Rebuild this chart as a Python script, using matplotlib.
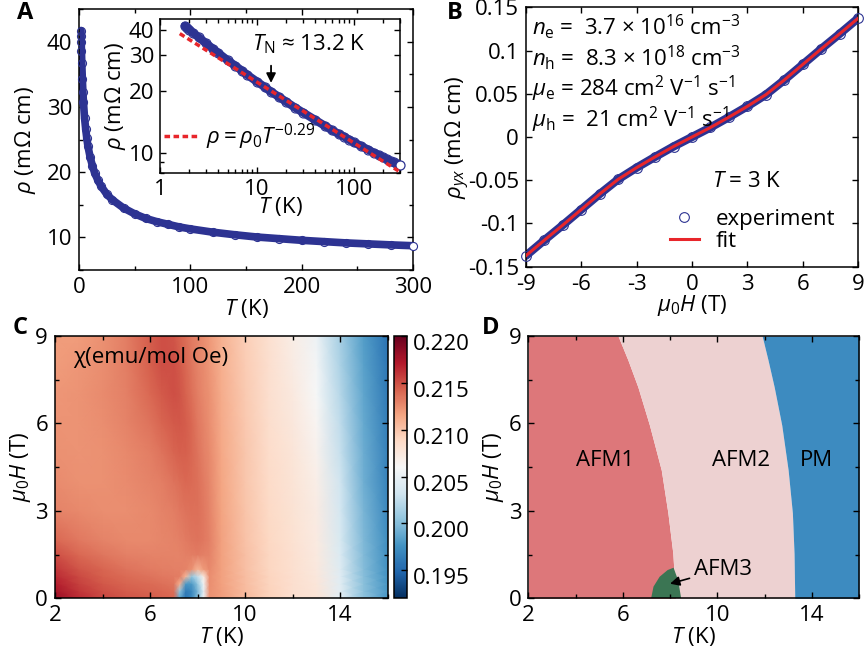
import numpy as np
import matplotlib
matplotlib.use('Agg')
import matplotlib.pyplot as plt
from matplotlib.ticker import MultipleLocator, FixedLocator, NullFormatter, FixedFormatter
from matplotlib.transforms import ScaledTranslation

plt.rcParams['font.family'] = ['Open Sans', 'DejaVu Sans']
plt.rcParams['mathtext.fontset'] = 'custom'
plt.rcParams['mathtext.rm'] = 'Open Sans'
plt.rcParams['mathtext.it'] = 'Open Sans:italic'
plt.rcParams['mathtext.bf'] = 'Open Sans:bold'
plt.rcParams['font.size'] = 16
plt.rcParams['axes.linewidth'] = 1.1

# ---------------- Panel A data: resistivity vs temperature ----------------
T_rho = [1.8, 1.9, 2.0, 2.2, 2.5, 3, 3.5, 4, 5, 6, 7, 8, 10, 12, 14, 17, 20, 25, 30,
         40, 50, 60, 70, 80, 90, 100, 120, 140, 160, 180, 200, 220, 240, 260, 280, 300]
rho = [41.7, 40.8, 40.0, 38.5, 36.7, 34.2, 32.3, 30.7, 28.3, 26.6, 25.2, 24.0, 22.3,
       21.0, 19.9, 18.75, 17.8, 16.6, 15.75, 14.5, 13.6, 12.9, 12.4, 12.0, 11.6, 11.3,
       10.8, 10.4, 10.05, 9.8, 9.55, 9.35, 9.15, 9.0, 8.85, 8.72]
T_fit = [1.6, 300]
rho_fit = [38.2, 8.1]
T_N = 14

# ---------------- Panel B data: Hall resistivity ----------------
H_hall = [-9, -8, -7, -6, -5, -4, -3, -2, -1, 0, 1, 2, 3, 4, 5, 6, 7, 8, 9]
rhoyx_exp = [-0.1375, -0.1195, -0.1020, -0.0840, -0.0660, -0.0490, -0.0355, -0.0230,
             -0.0110, 0.0, 0.0110, 0.0230, 0.0355, 0.0490, 0.0660, 0.0840, 0.1020,
             0.1195, 0.1375]
rhoyx_fit = [-0.1375, -0.1195, -0.1020, -0.0840, -0.0660, -0.0490, -0.0355, -0.0230,
             -0.0110, 0.0, 0.0110, 0.0230, 0.0355, 0.0490, 0.0660, 0.0840, 0.1020,
             0.1195, 0.1375]

# ---------------- Panel C data: susceptibility map ----------------
T_chi = [2, 3, 4, 5, 6, 6.5, 7, 7.25, 7.5, 7.75, 8, 8.25, 8.5, 9, 10, 11, 12, 13, 14, 15, 16]
H_chi = [0, 0.25, 0.5, 0.75, 1.0, 1.5, 2, 3, 4, 5, 6, 7, 8, 9]
chi = [
    [.2180, .2165, .2153, .2148, .2145, .2143, .2140, .1985, .1958, .1970, .2000, .2050, .2123, .2118, .2104, .2092, .2084, .2079, .2046, .2003, .1979],
    [.2175, .2160, .2150, .2145, .2142, .2140, .2138, .2005, .1962, .1970, .1995, .2045, .2124, .2118, .2104, .2092, .2084, .2078, .2045, .2002, .1978],
    [.2170, .2156, .2147, .2142, .2139, .2137, .2135, .2110, .1980, .1980, .2005, .2055, .2125, .2117, .2103, .2091, .2083, .2077, .2044, .2001, .1977],
    [.2165, .2152, .2144, .2139, .2136, .2134, .2133, .2132, .2105, .2005, .2025, .2070, .2125, .2117, .2103, .2091, .2083, .2076, .2043, .2000, .1976],
    [.2160, .2148, .2141, .2136, .2133, .2132, .2131, .2131, .2130, .2124, .2108, .2120, .2127, .2117, .2102, .2090, .2082, .2075, .2042, .1999, .1975],
    [.2150, .2140, .2135, .2131, .2129, .2129, .2130, .2130, .2131, .2132, .2133, .2131, .2129, .2117, .2102, .2090, .2082, .2074, .2040, .1998, .1974],
    [.2140, .2134, .2130, .2127, .2127, .2128, .2130, .2131, .2133, .2135, .2136, .2134, .2131, .2117, .2101, .2089, .2081, .2073, .2038, .1997, .1973],
    [.2130, .2127, .2125, .2125, .2127, .2129, .2132, .2134, .2136, .2137, .2137, .2134, .2130, .2116, .2100, .2088, .2080, .2071, .2035, .1995, .1970],
    [.2126, .2124, .2124, .2126, .2129, .2132, .2136, .2138, .2140, .2139, .2137, .2133, .2128, .2115, .2099, .2087, .2079, .2069, .2032, .1992, .1967],
    [.2124, .2123, .2124, .2127, .2132, .2136, .2141, .2144, .2144, .2140, .2136, .2131, .2127, .2114, .2099, .2086, .2078, .2066, .2028, .1990, .1965],
    [.2123, .2123, .2125, .2129, .2136, .2141, .2146, .2147, .2145, .2140, .2134, .2129, .2125, .2113, .2098, .2085, .2076, .2063, .2024, .1988, .1963],
    [.2122, .2123, .2126, .2131, .2140, .2146, .2150, .2148, .2143, .2137, .2132, .2127, .2124, .2112, .2097, .2084, .2074, .2060, .2020, .1986, .1961],
    [.2120, .2122, .2125, .2132, .2144, .2150, .2150, .2146, .2140, .2135, .2130, .2126, .2122, .2111, .2096, .2083, .2072, .2057, .2016, .1984, .1959],
    [.2118, .2120, .2124, .2132, .2145, .2150, .2148, .2143, .2138, .2133, .2129, .2125, .2121, .2110, .2095, .2082, .2070, .2053, .2012, .1982, .1957],
]
chi_ticks = [0.195, 0.200, 0.205, 0.210, 0.215, 0.220]

# ---------------- Panel D data: phase boundaries ----------------
H_b = [0, 1.54, 2.93, 4.4, 5.94, 7.25, 8.17, 9]
T_afm1_afm2 = [8.23, 8.12, 7.91, 7.63, 7.13, 6.64, 6.22, 5.8]
T_afm2_pm = [13.28, 13.25, 13.18, 13.0, 12.73, 12.41, 12.15, 11.9]
T_afm3 = [7.2, 7.3, 7.56, 7.9, 8.15, 8.35, 8.47]
H_afm3 = [0, 0.4, 0.74, 0.97, 1.05, 0.6, 0]

navy = '#2d3392'
red = '#e8262b'


def style(ax):
    ax.tick_params(which='both', direction='in', top=True, right=True, width=1.0,
                   pad=5, labelsize=16)
    ax.tick_params(which='major', length=4.5)
    ax.tick_params(which='minor', length=2.8)


fig = plt.figure(figsize=(8.65, 6.53), dpi=100)
W, Hh = 865.0, 653.0


def box(l, t, r, b):
    return [l / W, 1 - b / Hh, (r - l) / W, (b - t) / Hh]


# ---------------- Panel A ----------------
axA = fig.add_axes(box(79, 9, 413, 270))
axA.plot(T_rho, rho, '-', color=navy, lw=5.5, zorder=2, solid_capstyle='round')
axA.plot(T_rho[:-1], rho[:-1], 'o', mfc='none', mec=navy, ms=5.8, mew=0.8, zorder=3, clip_on=False)
axA.plot(T_rho[-1:], rho[-1:], 'o', mfc='white', mec=navy, ms=5.8, mew=0.8, zorder=4, clip_on=False)
axA.set_xlim(0, 300)
axA.set_ylim(5, 45)
style(axA)
axA.xaxis.set_major_locator(MultipleLocator(100))
axA.xaxis.set_minor_locator(MultipleLocator(50))
axA.yaxis.set_major_locator(MultipleLocator(10))
axA.yaxis.set_minor_locator(MultipleLocator(5))
axA.set_xlabel('$T$ (K)', labelpad=-1)
axA.set_ylabel(r'$\rho$ (m$\Omega$ cm)', labelpad=6)

# Inset
axI = fig.add_axes(box(160, 19, 400, 173))
axI.set_xscale('log')
axI.set_yscale('log')
axI.plot(T_rho, rho, '-', color=navy, lw=6, zorder=2, solid_capstyle='round')
axI.plot(T_rho[:-1], rho[:-1], 'o', mfc='none', mec=navy, ms=6.5, mew=0.8, zorder=3)
axI.plot(T_rho[-1:], rho[-1:], 'o', mfc='white', mec=navy, ms=6.5, mew=0.9, zorder=4, clip_on=False)
axI.plot(T_fit, rho_fit, color=red, lw=2.5, ls=(0, (1.6, 1.0)), zorder=5,
         label=r'$\rho = \rho_0T^{-0.29}$')
axI.set_xlim(1, 300)
axI.set_ylim(8, 45)
axI.tick_params(which='both', direction='in', top=True, right=True, width=1.0, pad=4, labelsize=16)
axI.tick_params(which='major', length=4.5)
axI.tick_params(which='minor', length=2.8)
axI.xaxis.set_major_locator(FixedLocator([1, 10, 100]))
axI.xaxis.set_major_formatter(FixedFormatter(['1', '10', '100']))
axI.yaxis.set_major_locator(FixedLocator([10, 20, 30, 40]))
axI.yaxis.set_major_formatter(FixedFormatter(['10', '20', '30', '40']))
axI.yaxis.set_minor_locator(FixedLocator([8, 9]))
axI.yaxis.set_minor_formatter(NullFormatter())
axI.set_xlabel('$T$ (K)', labelpad=-3)
axI.set_ylabel(r'$\rho$ (m$\Omega$ cm)', labelpad=1)
axI.annotate('', xy=(T_N, 21.3), xytext=(T_N, 27.5),
             arrowprops=dict(arrowstyle='-|>', color='black', lw=1.3, mutation_scale=14))
axI.text(8.9, 34, r'$T_\mathrm{N}$ ≈ 13.2 K', ha='left', va='center', fontsize=16)
axI.legend(loc='center left', bbox_to_anchor=(-0.03, 0.235), frameon=False, handlelength=1.6,
           handletextpad=0.3, borderpad=0, fontsize=16)

# ---------------- Panel B ----------------
axB = fig.add_axes(box(525.7, 7.3, 858.3, 266.7))
axB.plot(H_hall, rhoyx_exp, '-', color=navy, lw=6, zorder=2, solid_capstyle='round')
axB.plot(H_hall, rhoyx_exp, 'o', mfc='none', mec=navy, ms=7, mew=0.8, zorder=3,
         clip_on=False, label='experiment')
axB.plot(H_hall, rhoyx_fit, '-', color=red, lw=2.2, zorder=4, label='fit')
style(axB)
axB.set_yticks([-0.15, -0.1, -0.05, 0, 0.05, 0.1, 0.15])
axB.set_yticklabels(['-0.15', '-0.1', '-0.05', '0', '0.05', '0.1', '0.15'])
axB.set_xticks([-9, -6, -3, 0, 3, 6, 9])
axB.set_xticklabels(['-9', '-6', '-3', '0', '3', '6', '9'])
axB.set_xlim(-9, 9)
axB.set_ylim(-0.15, 0.15)
axB.set_xlabel(r'$\mu_0H$ (T)', labelpad=-1)
axB.set_ylabel(r'$\rho_{yx}$ (m$\Omega$ cm)', labelpad=-3)
lines_B = [r'$n_\mathrm{e}$ =  3.7 × 10$^{16}$ cm$^{-3}$',
           r'$n_\mathrm{h}$ =  8.3 × 10$^{18}$ cm$^{-3}$',
           r'$\mu_\mathrm{e}$ = 284 cm$^{2}$ V$^{-1}$ s$^{-1}$',
           r'$\mu_\mathrm{h}$ =  21 cm$^{2}$ V$^{-1}$ s$^{-1}$']
for i, s in enumerate(lines_B):
    axB.text(0.02, 0.925 - i * 0.12, s, transform=axB.transAxes, ha='left', va='center', fontsize=16)
axB.text(0.56, 0.33, '$T$ = 3 K', transform=axB.transAxes, ha='left', va='center', fontsize=16)
hB, lB = axB.get_legend_handles_labels()
axB.legend(hB[:2], lB[:2], loc='upper left', bbox_to_anchor=(0.40, 0.265), frameon=False,
           handlelength=1.3, handletextpad=0.75, labelspacing=0.05, borderpad=0, fontsize=16)

# ---------------- Panel C ----------------
axC = fig.add_axes(box(55, 336, 387.7, 598.3))
mesh = axC.pcolormesh(T_chi, H_chi, np.array(chi), cmap='RdBu_r', vmin=0.192, vmax=0.220,
                      shading='gouraud', rasterized=True)
axC.set_xlim(2, 16)
axC.set_ylim(0, 9)
style(axC)
axC.xaxis.set_major_locator(FixedLocator([2, 6, 10, 14]))
axC.xaxis.set_minor_locator(FixedLocator([4, 8, 12, 16]))
axC.yaxis.set_major_locator(FixedLocator([0, 3, 6, 9]))
axC.yaxis.set_minor_locator(FixedLocator([1.5, 4.5, 7.5]))
axC.set_xlabel('$T$ (K)', labelpad=-1)
axC.set_ylabel(r'$\mu_0H$ (T)', labelpad=2)
axC.text(2.75, 8.25, 'χ(emu/mol Oe)', ha='left', va='center', fontsize=16)

cax = fig.add_axes(box(394.3, 336, 407.3, 598.3))
cb = fig.colorbar(mesh, cax=cax, ticks=chi_ticks)
cb.ax.yaxis.set_major_formatter(FixedFormatter(['%.3f' % v for v in chi_ticks]))
cb.ax.tick_params(direction='in', length=4, width=1.0, labelsize=16, pad=4)
cb.outline.set_linewidth(1.1)
for lab in cb.ax.get_yticklabels():
    lab.set_transform(lab.get_transform() + ScaledTranslation(0, -0.06, fig.dpi_scale_trans))

# ---------------- Panel D ----------------
axD = fig.add_axes(box(528.3, 336, 859, 598.3))
axD.fill_betweenx(H_b, 2, T_afm1_afm2, color='#dd777a', lw=0)
axD.fill_betweenx(H_b, T_afm1_afm2, T_afm2_pm, color='#edd1d1', lw=0)
axD.fill_betweenx(H_b, T_afm2_pm, 16, color='#3d8bc0', lw=0)
axD.fill(T_afm3, H_afm3, color='#3b7553', lw=0)
axD.set_xlim(2, 16)
axD.set_ylim(0, 9)
style(axD)
axD.xaxis.set_major_locator(FixedLocator([2, 6, 10, 14]))
axD.xaxis.set_minor_locator(FixedLocator([4, 8, 12, 16]))
axD.yaxis.set_major_locator(FixedLocator([0, 3, 6, 9]))
axD.yaxis.set_minor_locator(FixedLocator([1.5, 4.5, 7.5]))
axD.set_xlabel('$T$ (K)', labelpad=-1)
axD.set_ylabel(r'$\mu_0H$ (T)', labelpad=2)
axD.text(5.24, 4.74, 'AFM1', ha='center', va='center', fontsize=16)
axD.text(11.0, 4.74, 'AFM2', ha='center', va='center', fontsize=16)
axD.text(14.2, 4.74, 'PM', ha='center', va='center', fontsize=16)
axD.annotate('AFM3', xy=(8.0, 0.5), xytext=(9.0, 1.0), ha='left', va='center', fontsize=16,
             arrowprops=dict(arrowstyle='-|>', color='black', lw=1.2, mutation_scale=14,
                             shrinkA=1, shrinkB=0))

# panel letters
for x, y, s in [(25, 13, 'A'), (455, 13, 'B'), (20, 328, 'C'), (491, 328, 'D')]:
    fig.text(x / W, 1 - y / Hh, s, ha='center', va='center', fontsize=17, fontweight='bold')

fig.savefig('out.png', dpi=100)
